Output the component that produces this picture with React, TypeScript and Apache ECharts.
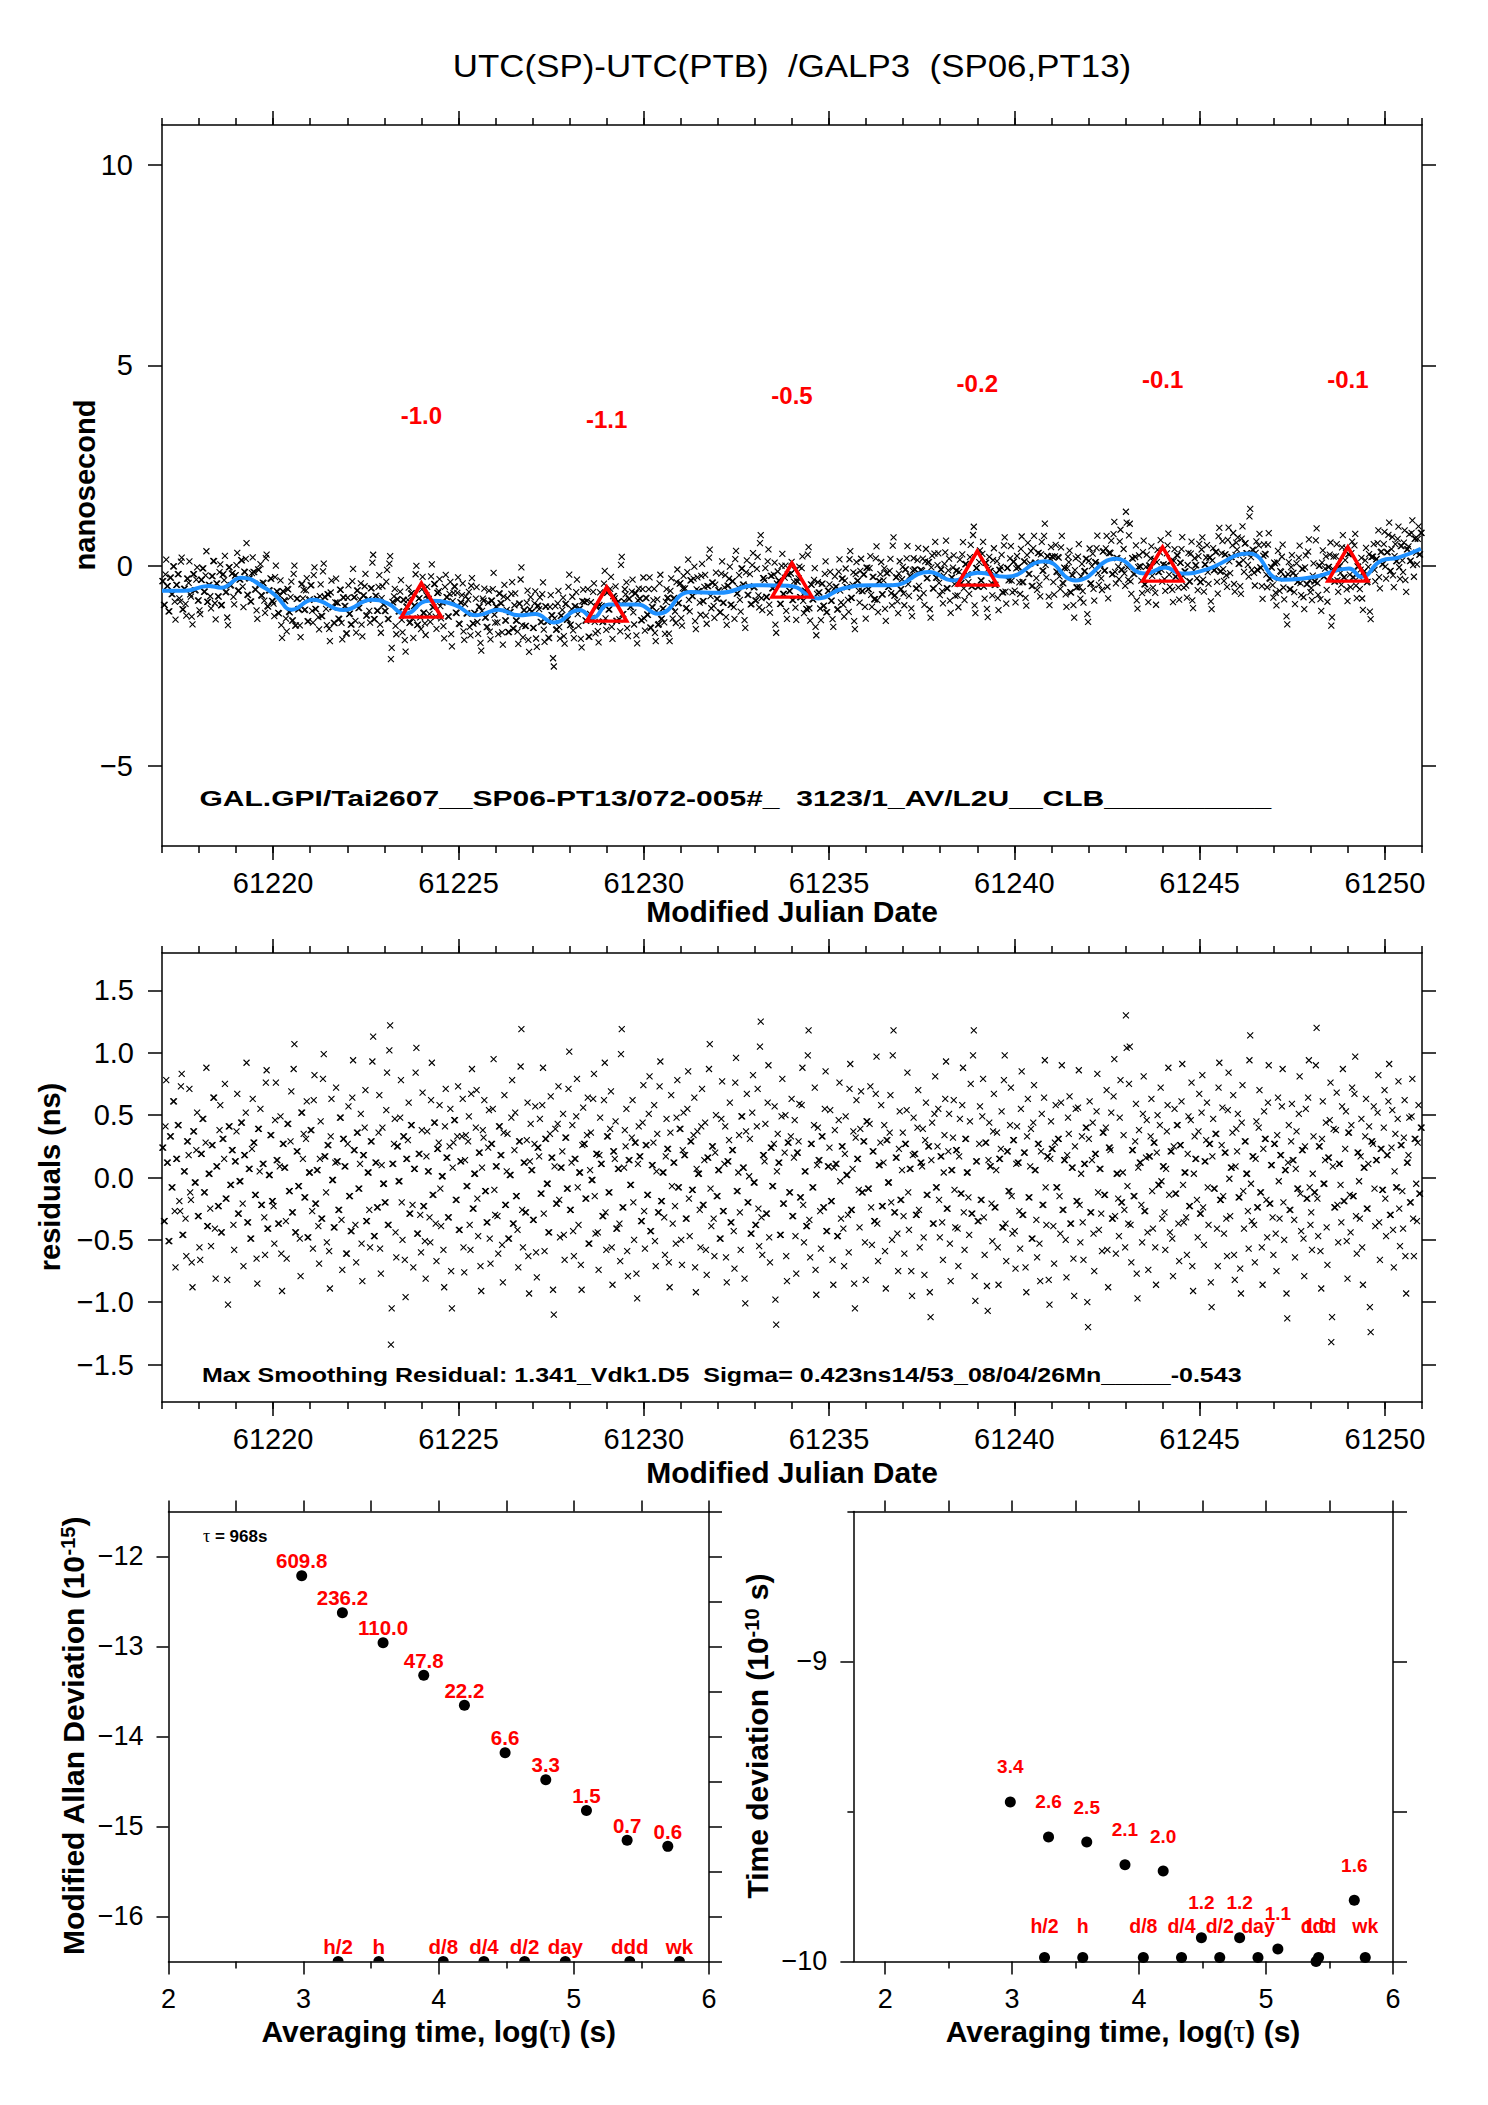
import React, { useEffect, useRef } from 'react';
import * as echarts from 'echarts';

// ---------------- data ----------------
const MJD_START = 61217;
const MJD_END = 61251;

// residuals of the smoothing, in hundredths of ns; two interleaved half-hourly streams,
// one row per day (regular sampling)
const residualsOnHourHundredthsNs: number[] = [
  24, -35, 41, 12, -51, 33, -8, 61, -27, 15, 42, -19, 73, -46, 5, -33, 29, 18, -12, -68, 37, -4, 22, -31,
  -56, 19, 47, -12, 28, -39, 3, -25, 26, 64, -41, 9, -23, 38, -44, 31, 15, -17, -82, 41, -6, 22, -38, 13,
  37, -29, -3, 44, -21, 18, 52, -36, 7, -49, 23, 28, -14, -65, 39, 5, -22, 11, -32, 76, -41, 2, 34, -19,
  -23, 46, 14, -37, 9, -61, 27, 8, -35, 43, -11, 29, -28, 87, -44, 21, -7, -49, 52, 15, -16, 31, -48, 4,
  38, -27, 62, -21, 6, -39, 15, -33, 79, 17, -12, 26, -59, 33, -2, -40, 12, 13, -26, 48, -34, 31, 9, -61,
  27, -15, -43, 64, 22, -38, 36, -9, 11, -53, 18, 40, -35, 4, -26, 29, 93, -47, 12, -24, 36, -57, 10, -5,
  -20, 54, -38, 102, -134, 11, 27, -44, 25, -3, 48, -20, 33, -66, 15, 30, -29, 42, -22, 7, 84, -45, 19, -30,
  38, -23, -51, 17, 5, -32, 62, -14, 44, -37, 23, 28, -9, 1, -58, 41, 16, -32, 25, -75, 8, 46, -18, 33,
  -42, 13, 33, -56, 14, -7, 29, -38, 67, -25, 3, 40, -17, 20, -71, 8, 32, -11, -36, 24, -49, 27, 55, -10,
  9, -31, 41, 18, -54, 36, -22, 5, -49, 2, 48, -37, 22, -15, -42, 29, 89, -26, 12, -28, 30, -63, 13, 6,
  -34, 27, -60, 24, 17, -13, 58, -29, 31, -5, -44, 35, 16, -90, 9, -21, 43, -18, 8, 21, -46, 32, -9, 71,
  -26, 12, -43, 15, 49, -8, 4, -70, 26, 27, -17, 34, -53, 6, -2, 63, -15, 19, -44, 18, 11, -31, 62, -28,
  33, -12, 39, -56, 21, 15, -41, 7, -37, 99, -24, 8, 25, -59, 14, -6, 32, -20, 28, -77, 11, 17, -35, 44,
  -27, 26, -14, 51, -43, 10, 28, -51, 5, -28, 73, -19, 4, -32, 17, 23, -68, 36, -7, 12, -23, 48, -8, 39,
  -50, 22, 18, -33, 55, -17, 29, -10, 34, -72, 7, 3, -26, 41, -22, 14, -58, 16, 87, -9, 25, -33, 20, -15,
  6, -49, 47, -27, 11, -64, 13, 30, -36, 22, -43, 76, -11, 4, -28, 49, 8, -81, 37, -20, 1, -45, 52, -4,
  -38, 41, -25, 105, -32, 18, 13, -29, 60, -48, 24, -7, 27, -98, 5, 12, -46, 49, -21, 20, -63, 28, -12, 33,
  -31, 16, -47, 20, 29, -16, 58, -22, 5, -39, 98, -34, 27, -8, 42, -74, 10, 14, -27, 33, -24, 55, -43, 9,
  24, -19, -66, 8, 11, -47, 46, -3, 25, -41, 19, 2, -30, 71, -26, 7, -85, 32, 15, -10, 39, -12, 29, -52,
  45, -9, 43, -24, 21, -35, 67, -37, 10, 28, -23, 12, -59, 30, -4, 36, -20, 98, -28, 16, -45, 23, -18, 6,
  -31, 27, 54, -12, 7, -75, 18, 19, -30, 40, -26, 12, 9, -48, 30, -14, 25, -92, 14, -37, 51, -8, 25, -18,
  17, -36, 4, 63, -25, 21, -53, 6, 32, -10, 22, -41, 17, -13, 58, -28, 31, 4, -16, 45, -29, 98, -79, 13,
  -35, 27, -18, 49, -32, 28, -87, 14, 9, -21, 37, -24, 6, -56, 15, 23, -40, 78, -37, 21, -11, 42, -15, 30,
  -43, 11, 12, -27, 55, -30, 20, -72, 33, -16, 9, -49, 44, 6, -34, 27, -53, 21, -22, 64, -8, 17, -82, 15,
  23, -39, 28, -8, 31, -15, 60, -26, 14, -50, 18, 35, -37, 8, -65, 25, -19, 56, -22, 3, -36, 11, 40, -100,
  31, -28, 14, -45, 19, 53, -12, 7, -29, 36, -14, 40, -58, 24, 22, -33, 65, -31, 3, -17, 48, -20, 4, -26,
  130, -7, 75, -38, 22, -15, 29, -77, 8, 12, -22, 51, -27, 16, -44, 17, 33, -11, 28, -56, 20, -6, 42, -3,
  9, -28, 7, 58, -14, 21, -49, 25, -13, 42, -37, 26, 61, -6, 4, -32, 19, -23, 46, -71, 3, 15, -18, 37,
  -29, 52, -24, 13, 30, -8, 27, -84, 17, -9, 35, -41, 72, -18, 26, -15, 20, -33, 54, -1, 8, 36, -62, 9,
  21, -16, -73, 44, -11, 29, 3, -27, 94, -5, 17, -38, 15, -24, 40, -12, -56, 23, 31, -18, 60, -21, 10, -32,
  27, -45, 34, -3, 18, 57, -20, 6, -93, 12, -26, 29, 14, -34, 7, -9, 51, -13, 22, -49, 25, -17, 64, -8,
  -28, 3, -12, 90, -17, 25, -59, 31, -5, 14, -40, 16, 46, -132, 9, -24, 38, -22, 11, -6, 57, -19, 23, -51,
  36, -14, 42, -15, 67, -31, 20, -3, 17, -56, 8, 33, -25, 11, -104, 29, 27, -9, 14, 52, -36, 23, -10, 40,
  -17, 18, 61, -30, 24, -42, 5, -8, 47, -25, 26, -11, 32, -63, 12, 18, -20, 49, -33, 31, -5, 28, -13, 40,
];
const residualsOnHalfHourHundredthsNs: number[] = [
  24, -35, 78, 12, -51, 33, -8, 61, -72, 15, 42, -27, 83, -46, 5, -63, 29, 71, -18, -88, 37, -4, 52, -31,
  -66, 19, 47, -12, 88, -39, 3, -55, 26, 64, -81, 9, -23, 58, -44, 31, 75, -17, -102, 41, -6, 22, -58, 13,
  67, -29, -3, 44, -71, 18, 92, -36, 7, -49, 63, 28, -14, -85, 39, 55, -22, 11, -62, 86, -41, 2, 34, -19,
  -53, 76, 14, -37, 49, -91, 27, 8, -65, 43, -11, 69, -28, 107, -44, 21, -7, -79, 52, 35, -16, 61, -48, 4,
  38, -57, 82, -21, 6, -69, 45, -33, 99, 17, -52, 26, -89, 63, -2, -40, 72, 13, -26, 48, -74, 31, 9, -61,
  57, -15, -43, 94, 22, -68, 36, -9, 51, -83, 18, 70, -35, 4, -56, 29, 113, -47, 12, -24, 66, -77, 40, -5,
  -20, 84, -38, 122, -105, 11, 47, -64, 25, -3, 78, -50, 33, -96, 15, 60, -29, 42, -72, 7, 104, -45, 19, -60,
  68, -23, -81, 37, 5, -52, 92, -14, 44, -67, 23, 58, -39, 1, -88, 71, 16, -32, 55, -105, 28, 46, -18, 73,
  -42, 13, 63, -76, 34, -7, 49, -58, 87, -25, 3, 70, -47, 20, -91, 38, 62, -11, -36, 54, -69, 27, 95, -30,
  9, -61, 41, 18, -84, 66, -22, 35, -49, 2, 78, -37, 52, -15, -72, 29, 119, -56, 12, -28, 60, -93, 43, 6,
  -34, 57, -80, 24, 47, -13, 88, -59, 31, -5, -44, 65, 16, -110, 39, -21, 73, -48, 8, 51, -66, 32, -9, 101,
  -26, 42, -63, 15, 79, -38, 4, -90, 56, 27, -17, 64, -53, 36, -2, 83, -45, 19, -74, 48, 11, -31, 92, -58,
  33, -12, 69, -86, 21, 45, -41, 7, -67, 119, -24, 38, 55, -79, 14, -6, 62, -50, 28, -97, 41, 17, -35, 74,
  -57, 26, -14, 81, -43, 10, 58, -71, 35, -28, 93, -19, 4, -62, 47, 23, -88, 66, -37, 12, -53, 78, -8, 39,
  -70, 52, 18, -33, 85, -47, 29, -10, 64, -92, 37, 3, -56, 71, -22, 44, -78, 16, 107, -39, 25, -63, 50, -15,
  6, -49, 77, -27, 41, -84, 13, 60, -36, 22, -73, 96, -11, 34, -58, 49, 8, -101, 67, -20, 31, -45, 82, -4,
  -38, 71, -55, 125, -62, 18, 43, -29, 90, -68, 24, -7, 57, -118, 35, 12, -46, 79, -21, 50, -83, 28, -12, 63,
  -31, 46, -77, 20, 59, -16, 88, -52, 5, -39, 118, -64, 27, -8, 72, -94, 40, 14, -57, 33, -24, 85, -43, 9,
  54, -19, -86, 38, 11, -47, 76, -33, 25, -71, 49, 2, -60, 91, -26, 37, -105, 62, 15, -40, 69, -12, 29, -82,
  45, -9, 73, -54, 21, -35, 97, -67, 10, 58, -23, 42, -89, 30, -4, 66, -50, 118, -28, 16, -75, 53, -18, 36,
  -61, 27, 84, -42, 7, -95, 48, 19, -30, 70, -56, 12, 39, -78, 60, -14, 25, -112, 44, -37, 81, -8, 55, -48,
  17, -66, 34, 93, -25, 51, -83, 6, 62, -40, 22, -71, 47, -13, 88, -58, 31, 4, -46, 75, -29, 118, -99, 13,
  -35, 57, -18, 79, -62, 28, -107, 44, 9, -51, 67, -24, 36, -86, 15, 53, -40, 98, -67, 21, -11, 72, -45, 30,
  -73, 41, 12, -57, 85, -30, 20, -92, 63, -16, 39, -49, 74, 6, -64, 27, -83, 51, -22, 94, -38, 17, -102, 45,
  23, -69, 58, -8, 31, -45, 90, -26, 14, -80, 48, 65, -37, 8, -95, 55, -19, 86, -52, 33, -66, 11, 40, -120,
  61, -28, 44, -75, 19, 83, -42, 7, -59, 36, -14, 70, -88, 24, 52, -33, 95, -61, 3, -47, 78, -20, 34, -56,
  104, -37, 105, -68, 22, -15, 59, -97, 38, 12, -52, 81, -27, 46, -74, 17, 63, -41, 28, -86, 50, -6, 72, -33,
  9, -58, 37, 88, -44, 21, -79, 55, -13, 42, -67, 26, 91, -36, 4, -62, 49, -23, 76, -91, 33, 15, -48, 67,
  -29, 82, -54, 13, 60, -38, 27, -104, 47, -9, 35, -71, 92, -18, 56, -45, 20, -63, 84, -31, 8, 66, -82, 39,
  51, -16, -93, 74, -41, 29, 3, -57, 114, -35, 17, -68, 45, -24, 70, -12, -86, 53, 31, -48, 90, -21, 10, -62,
  27, -75, 64, -33, 18, 87, -50, 6, -113, 42, -26, 59, 14, -64, 37, -9, 81, -43, 22, -79, 55, -17, 94, -38,
  -58, 33, -12, 120, -47, 25, -89, 61, -5, 44, -70, 16, 76, -112, 39, -24, 68, -52, 11, -36, 87, -19, 53, -81,
  36, -44, 72, -15, 97, -61, 20, -33, 47, -86, 8, 63, -25, 41, -124, 29, 57, -39, 14, 82, -66, 23, -10, 70,
  -47, 18, 91, -30, 54, -72, 35, -8, 77, -55, 26, -41, 62, -93, 12, 48, -20, 79, -63, 31, -35, 58, -13, 40,
];

// smoothing curve (blue)
const smoothMjd = [
  61217.0, 61217.6, 61218.26, 61218.6, 61219.14, 61219.8, 61220.1, 61220.5, 61221.07, 61221.9,
  61222.66, 61223.1, 61223.55, 61224.2, 61224.87, 61225.5, 61226.08, 61226.63, 61227.07, 61227.57,
  61228.27, 61228.62, 61229.06, 61229.83, 61230.38, 61231.26, 61232.03, 61233.03, 61233.9, 61234.71,
  61235.37, 61236.14, 61236.7, 61237.69, 61238.35, 61239.01, 61239.78, 61240.82, 61241.65, 61242.75,
  61243.52, 61244.07, 61244.51, 61245.17, 61246.33, 61247.22, 61248.15, 61249.03, 61249.36, 61249.92,
  61250.36, 61250.97,
];
const smoothNs = [
  -0.63, -0.63, -0.51, -0.55, -0.3, -0.57, -0.78, -1.1, -0.85, -1.11,
  -0.85, -0.95, -1.2, -0.88, -0.97, -1.24, -1.1, -1.24, -1.21, -1.42,
  -1.11, -1.3, -0.97, -0.97, -1.2, -0.66, -0.68, -0.49, -0.5, -0.82,
  -0.57, -0.49, -0.49, -0.16, -0.37, -0.18, -0.28, 0.11, -0.37, 0.17,
  -0.2, -0.05, -0.2, -0.1, 0.3, -0.35, -0.27, -0.07, -0.28, 0.13,
  0.2, 0.42,
];

// red triangles (daily means) and their labels
const triMjd = [61224, 61229, 61234, 61239, 61244, 61249];
const triNs = [-1.0, -1.1, -0.5, -0.2, -0.1, -0.1];
const TRI_LABEL_LIFT = 4.75; // ns above the triangle

// stability analysis
const TAU0 = 968; // s
const tauMultiples = [1, 2, 4, 8, 16, 32, 64, 128, 256, 512];
const mdevE15 = [609.8, 236.2, 110.0, 47.8, 22.2, 6.6, 3.3, 1.5, 0.7, 0.6];
const tdevE10 = [3.4, 2.6, 2.5, 2.1, 2.0, 1.2, 1.2, 1.1, 1.0, 1.6];
const markerNames = ['h/2', 'h', 'd/8', 'd/4', 'd/2', 'day', 'ddd', 'wk'];
const markerSeconds = [1800, 3600, 10800, 21600, 43200, 86400, 259200, 604800];

// tick values
const mjdTicks = [61220, 61225, 61230, 61235, 61240, 61245, 61250];
const nsTicks = [-5, 0, 5, 10];
const resTicks = [-1.5, -1, -0.5, 0, 0.5, 1, 1.5];
const mdevTicks = [-16, -15, -14, -13, -12];
const tdevTicks = [-10, -9];
const tdevMinorTicks = [-9.5, -8.5];
const tdevRightTicks = [-10, -9.5, -9, -8.5];
const logTauTicks = [2, 3, 4, 5, 6];
const logTauHalfTicks = [2, 2.5, 3, 3.5, 4, 4.5, 5, 5.5, 6];
const logTauMinorTicks = [2.5, 3.5, 4.5, 5.5];

// ---------------- helpers ----------------
const FONT = "'Liberation Sans', Arial, Helvetica, sans-serif";
const SERIF = "'Liberation Serif', 'DejaVu Serif', serif";
const MINUS = '\u2212';
const neg = (s: string) => s.replace('-', MINUS);
const LINE = { color: '#000', width: 1.5 };

function axis(o: any) {
  const a: any = {
    type: 'value',
    gridIndex: o.grid,
    position: o.pos,
    min: o.min,
    max: o.max,
    axisLine: { show: o.line !== false, onZero: false, lineStyle: LINE },
    axisTick: { show: true, inside: false, length: o.len, lineStyle: LINE },
    minorTick: { show: false },
    splitLine: { show: false },
    axisPointer: { show: false },
    axisLabel: { show: false },
  };
  if (o.interval != null) a.interval = o.interval;
  if (o.ticks) a.axisTick.customValues = o.ticks;
  if (o.labels) {
    a.axisLabel = {
      show: true,
      customValues: o.labels,
      formatter: o.fmt,
      margin: o.margin,
      color: '#000',
      fontFamily: FONT,
      fontSize: o.fs,
    };
  }
  return a;
}

function smoothAt(x: number) {
  if (x <= smoothMjd[0]) return smoothNs[0];
  for (let k = 1; k < smoothMjd.length; k++) {
    if (x <= smoothMjd[k]) {
      const t = (x - smoothMjd[k - 1]) / (smoothMjd[k] - smoothMjd[k - 1]);
      return smoothNs[k - 1] + t * (smoothNs[k] - smoothNs[k - 1]);
    }
  }
  return smoothNs[smoothNs.length - 1];
}

function buildOption() {
  // interleave the two streams into one regular half-hourly series
  const residualsHundredths: number[] = [];
  residualsOnHourHundredthsNs.forEach((v, k) => {
    residualsHundredths.push(v);
    if (k < residualsOnHalfHourHundredthsNs.length) residualsHundredths.push(residualsOnHalfHourHundredthsNs[k]);
  });
  const N = residualsHundredths.length;
  const step = (MJD_END - MJD_START) / N;
  const sampleMjd = residualsHundredths.map((_, i) => MJD_START + (i + 0.5) * step);
  const residualNs = residualsHundredths.map((v) => v / 100);
  const topPts = sampleMjd.map((x, i) => [x, smoothAt(x) + residualNs[i]]);
  const resPts = sampleMjd.map((x, i) => [x, residualNs[i]]);
  const smoothPts = smoothMjd.map((x, i) => [x, smoothNs[i]]);
  const triPts = triMjd.map((x, i) => [x, triNs[i]]);
  const triLabelPts = triMjd.map((x, i) => [x, triNs[i] + TRI_LABEL_LIFT]);

  const logTau = tauMultiples.map((m) => Math.log10(TAU0 * m));
  const mdevPts = logTau.map((x, i) => [x, Math.log10(mdevE15[i] * 1e-15)]);
  const tdevPts = logTau.map((x, i) => [x, Math.log10(tdevE10[i] * 1e-10)]);
  const markLog = markerSeconds.map((s) => Math.log10(s));

  const xSym = 'path://M0,0L10,10M10,0L0,10';
  const halfDisc = 'path://M0,10A10,10,0,0,1,20,10Z';
  const redLabel = (fs: number) => ({
    color: '#ff0000',
    fontWeight: 'bold',
    fontFamily: FONT,
    fontSize: fs,
  });

  const mjdFmt = (v: number) => String(v);

  const xAxis = [
    // grid 0 (top)
    axis({ grid: 0, pos: 'bottom', min: MJD_START, max: MJD_END, interval: 1, len: 7, labels: mjdTicks, fmt: mjdFmt, margin: 22, fs: 29 }),
    axis({ grid: 0, pos: 'bottom', min: MJD_START, max: MJD_END, ticks: mjdTicks, len: 14, line: false }),
    axis({ grid: 0, pos: 'top', min: MJD_START, max: MJD_END, interval: 1, len: 7 }),
    axis({ grid: 0, pos: 'top', min: MJD_START, max: MJD_END, ticks: mjdTicks, len: 14, line: false }),
    // grid 1 (residuals)
    axis({ grid: 1, pos: 'bottom', min: MJD_START, max: MJD_END, interval: 1, len: 7, labels: mjdTicks, fmt: mjdFmt, margin: 22, fs: 29 }),
    axis({ grid: 1, pos: 'bottom', min: MJD_START, max: MJD_END, ticks: mjdTicks, len: 14, line: false }),
    axis({ grid: 1, pos: 'top', min: MJD_START, max: MJD_END, interval: 1, len: 7 }),
    axis({ grid: 1, pos: 'top', min: MJD_START, max: MJD_END, ticks: mjdTicks, len: 14, line: false }),
    // grid 2 (MDEV)
    axis({ grid: 2, pos: 'bottom', min: 2, max: 6, ticks: logTauMinorTicks, len: 7, labels: logTauTicks, fmt: (v: number) => String(v), margin: 24, fs: 27 }),
    axis({ grid: 2, pos: 'bottom', min: 2, max: 6, ticks: logTauTicks, len: 13, line: false }),
    axis({ grid: 2, pos: 'top', min: 2, max: 6, ticks: logTauHalfTicks, len: 11 }),
    // grid 3 (TDEV)
    axis({ grid: 3, pos: 'bottom', min: 1.75, max: 6, ticks: logTauMinorTicks, len: 7, labels: logTauTicks, fmt: (v: number) => String(v), margin: 24, fs: 27 }),
    axis({ grid: 3, pos: 'bottom', min: 1.75, max: 6, ticks: logTauTicks, len: 13, line: false }),
    axis({ grid: 3, pos: 'top', min: 1.75, max: 6, ticks: logTauHalfTicks, len: 11 }),
  ];

  const yAxis = [
    axis({ grid: 0, pos: 'left', min: -7, max: 11, ticks: nsTicks, len: 14, labels: nsTicks, fmt: (v: number) => neg(String(v)), margin: 29, fs: 29 }),
    axis({ grid: 0, pos: 'right', min: -7, max: 11, ticks: nsTicks, len: 14 }),
    axis({ grid: 1, pos: 'left', min: -1.8, max: 1.8, ticks: resTicks, len: 14, labels: resTicks, fmt: (v: number) => neg(v.toFixed(1)), margin: 28, fs: 29 }),
    axis({ grid: 1, pos: 'right', min: -1.8, max: 1.8, ticks: resTicks, len: 14 }),
    axis({ grid: 2, pos: 'left', min: -16.5, max: -11.5, ticks: mdevTicks, len: 12, labels: mdevTicks, fmt: (v: number) => neg(String(v)), margin: 25, fs: 27 }),
    axis({ grid: 2, pos: 'right', min: -16.5, max: -11.5, interval: 0.5, len: 13 }),
    axis({ grid: 3, pos: 'left', min: -10, max: -8.5, ticks: tdevTicks, len: 13, labels: tdevTicks, fmt: (v: number) => neg(String(v)), margin: 26, fs: 27 }),
    axis({ grid: 3, pos: 'left', min: -10, max: -8.5, ticks: tdevMinorTicks, len: 6, line: false }),
    axis({ grid: 3, pos: 'right', min: -10, max: -8.5, ticks: tdevRightTicks, len: 14 }),
  ];

  const xStyle = { color: 'rgba(0,0,0,0)', borderColor: '#000', borderWidth: 1.1, opacity: 1 };
  const dotStyle = { color: '#000', opacity: 1 };
  const series: any[] = [
    { type: 'scatter', xAxisIndex: 0, yAxisIndex: 0, data: topPts, symbol: xSym, symbolSize: 6, itemStyle: xStyle, silent: true, z: 2 },
    {
      type: 'line', xAxisIndex: 0, yAxisIndex: 0, data: smoothPts, smooth: 0.5, showSymbol: false, symbol: 'none',
      lineStyle: { color: '#1E90FF', width: 4, opacity: 1 }, silent: true, z: 3,
    },
    {
      type: 'scatter', xAxisIndex: 0, yAxisIndex: 0, data: triPts, symbol: 'triangle', symbolSize: [40, 34],
      symbolOffset: [0, -5.5], itemStyle: { color: 'rgba(0,0,0,0)', borderColor: '#ff0000', borderWidth: 3.5, opacity: 1 }, silent: true, z: 4,
    },
    {
      type: 'scatter', xAxisIndex: 0, yAxisIndex: 0, data: triLabelPts, symbolSize: 1,
      itemStyle: { color: 'rgba(0,0,0,0)', opacity: 1 }, silent: true, z: 5,
      label: { show: true, position: 'inside', formatter: (p: any) => triNs[p.dataIndex].toFixed(1), ...redLabel(24) },
    },
    { type: 'scatter', xAxisIndex: 4, yAxisIndex: 2, data: resPts, symbol: xSym, symbolSize: 6, itemStyle: xStyle, silent: true, z: 2 },
    {
      type: 'scatter', xAxisIndex: 8, yAxisIndex: 4, data: mdevPts, symbol: 'circle', symbolSize: 11,
      itemStyle: dotStyle, silent: true, z: 3,
      label: { show: true, position: 'inside', offset: [0, -15], formatter: (p: any) => mdevE15[p.dataIndex].toFixed(1), ...redLabel(20.5) },
    },
    {
      type: 'scatter', xAxisIndex: 8, yAxisIndex: 4, data: markLog.map((x) => [x, -16.5]), symbol: halfDisc,
      symbolSize: [11, 5.5], symbolOffset: [0, -2.75], clip: false, itemStyle: dotStyle, silent: true, z: 3,
      label: { show: true, position: 'inside', offset: [0, -12], formatter: (p: any) => markerNames[p.dataIndex], ...redLabel(20.5) },
    },
    {
      type: 'scatter', xAxisIndex: 11, yAxisIndex: 6, data: tdevPts, symbol: 'circle', symbolSize: 11,
      itemStyle: dotStyle, silent: true, z: 3,
      label: { show: true, position: 'inside', offset: [0, -35], formatter: (p: any) => tdevE10[p.dataIndex].toFixed(1), ...redLabel(19) },
    },
    {
      type: 'scatter', xAxisIndex: 11, yAxisIndex: 6, data: markLog.map((x) => [x, -10]), symbol: 'circle',
      symbolSize: 11, symbolOffset: [0, -4], clip: false, itemStyle: dotStyle, silent: true, z: 3,
      label: { show: true, position: 'inside', offset: [0, -31], formatter: (p: any) => markerNames[p.dataIndex], ...redLabel(19.5) },
    },
  ];

  const txt = (x: number, y: number, text: string, fs: number, bold: boolean, extra: any = {}, family = FONT) => ({
    type: 'text',
    x,
    y,
    rotation: extra.rotation || 0,
    scaleX: extra.scaleX || 1,
    silent: true,
    style: {
      text,
      fontSize: fs,
      fontFamily: family,
      fontWeight: bold ? 'bold' : 'normal',
      fill: '#000',
      align: extra.align || 'center',
      textAlign: extra.align || 'center',
      verticalAlign: 'middle',
      textVerticalAlign: 'middle',
      rich: extra.rich,
    },
  });

  const bold30 = { fontSize: 30, fontWeight: 'bold', fontFamily: FONT, fill: '#000', color: '#000' };
  const sup20 = { fontSize: 20, fontWeight: 'bold', fontFamily: FONT, fill: '#000', color: '#000', verticalAlign: 'top' };
  const tau30 = { fontSize: 31, fontWeight: 'normal', fontFamily: SERIF, fill: '#000', color: '#000' };

  const graphic = [
    txt(792, 66, 'UTC(SP)-UTC(PTB) \u00a0/GALP3 \u00a0(SP06,PT13)', 32, false, { scaleX: 1.09 }),
    txt(792, 911, 'Modified Julian Date', 30, true),
    txt(85.4, 485, 'nanosecond', 29, true, { rotation: Math.PI / 2 }),
    txt(199.5, 798.5, 'GAL.GPI/Tai2607__SP06-PT13/072-005#_ \u00a03123/1_AV/L2U__CLB__________', 22.5, true, { align: 'left', scaleX: 1.335 }),
    txt(792, 1472, 'Modified Julian Date', 30, true),
    txt(50, 1177, 'residuals (ns)', 29, true, { rotation: Math.PI / 2 }),
    txt(202, 1374.5, 'Max Smoothing Residual: 1.341_Vdk1.D5 \u00a0Sigma= 0.423ns14/53_08/04/26Mn_____-0.543', 21, true, { align: 'left', scaleX: 1.19 }),
    txt(73, 1736, '{a|Modified Allan Deviation (10}{b|-15}{a|)}', 30, true, { rotation: Math.PI / 2, rich: { a: bold30, b: sup20 } }),
    txt(438.75, 2031, '{a|Averaging time, log(}{t|\u03c4}{a|) (s)}', 30, true, { rich: { a: bold30, t: tau30 } }),
    txt(757, 1736, '{a|Time deviation (10}{b|-10}{a| s)}', 30, true, { rotation: Math.PI / 2, rich: { a: bold30, b: sup20 } }),
    txt(1123, 2031, '{a|Averaging time, log(}{t|\u03c4}{a|) (s)}', 30, true, { rich: { a: bold30, t: tau30 } }),
    txt(203, 1536, '{t|\u03c4}{a| = 968s}', 17, true, {
      align: 'left',
      rich: {
        a: { fontSize: 17, fontWeight: 'bold', fontFamily: FONT, fill: '#000', color: '#000' },
        t: { fontSize: 18, fontFamily: SERIF, fill: '#000', color: '#000' },
      },
    }),
  ];

  const gridBase = { containLabel: false, outerBoundsMode: 'none', show: false };
  return {
    animation: false,
    backgroundColor: '#ffffff',
    grid: [
      { ...gridBase, left: 162, top: 125, width: 1260, height: 721 },
      { ...gridBase, left: 162, top: 953, width: 1260, height: 449 },
      { ...gridBase, left: 168.5, top: 1511.4, width: 540.5, height: 450 },
      { ...gridBase, left: 853.4, top: 1511.4, width: 539.6, height: 450 },
    ],
    xAxis,
    yAxis,
    series,
    graphic,
  };
}

export default function App() {
  const ref = useRef<HTMLDivElement>(null);
  useEffect(() => {
    document.body.style.margin = '0';
    document.body.style.overflow = 'hidden';
    const el = ref.current;
    if (!el) return;
    const chart = echarts.init(el, undefined, { renderer: 'svg' });
    chart.setOption(buildOption() as any);
    return () => chart.dispose();
  }, []);
  return <div ref={ref} style={{ width: 1488, height: 2105, background: '#fff' }} />;
}
